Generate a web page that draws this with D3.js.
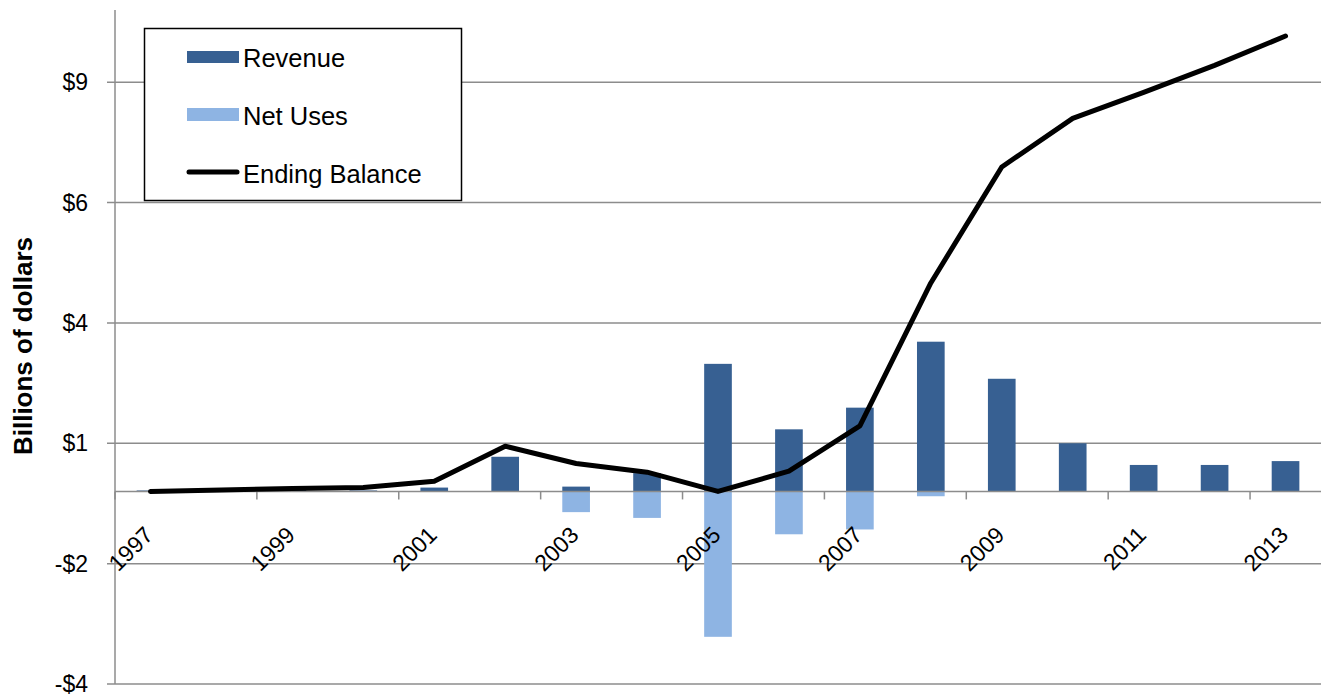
<!DOCTYPE html>
<html>
<head>
<meta charset="utf-8">
<script src="https://cdn.jsdelivr.net/npm/d3@7"></script>
<style>
body { margin: 0; background: white; }
text { font-family: "Liberation Sans", Arial, sans-serif; }
</style>
</head>
<body>
<div id="chart"></div>
<script>
var margin = {top: 10, right: 0, bottom: 12, left: 115}
var width = 1321 - margin.left - margin.right
var height = 696 - margin.top - margin.bottom

// Data

var years = ["1997", "1998", "1999", "2000", "2001", "2002", "2003", "2004", "2005",
             "2006", "2007", "2008", "2009", "2010", "2011", "2012", "2013"]
var revenue = [0.02, 0.02, 0.03, 0.02, 0.08, 0.72, 0.10, 0.38, 2.65, 1.29, 1.74, 3.11, 2.34, 1.00, 0.55, 0.55, 0.63]
var netUses = [-0.01, 0, -0.01, -0.01, 0, 0, -0.43, -0.55, -3.02, -0.89, -0.79, -0.10, 0, 0, 0, 0, 0]
var balance = [0, 0.03, 0.06, 0.08, 0.21, 0.94, 0.58, 0.40, 0, 0.42, 1.36, 4.33, 6.74, 7.75, 8.29, 8.85, 9.46]
var yTicks = [-4, -1.5, 1, 3.5, 6, 8.5]
var labelYears = ["1997", "1999", "2001", "2003", "2005", "2007", "2009", "2011", "2013"]
var legendItems = ["Revenue", "Net Uses", "Ending Balance"]

var revColor = "#376092"
var netColor = "#8EB4E3"
var gridColor = "#8c8c8c"

// Scale creation

var y_scale = d3.scaleLinear()
    .domain([-4, 10])
    .range([height, 0]);

var x_scale = d3.scaleBand()
    .domain(years)
    .range([0, width]);

var barW = x_scale.bandwidth() * 0.39

var svg = d3.select("#chart")
    .append("svg")
    .attr("width", 1321)
    .attr("height", 696)
    .style("background-color", "white")

var chart = svg.append("g")
    .attr("transform", "translate(" + margin.left + "," + margin.top + ")")

// Gridlines

chart.append("g")
    .selectAll("line")
    .data(yTicks)
    .enter()
    .append("line")
    .attr("x1", -8)
    .attr("x2", width)
    .attr("y1", function(d) { return y_scale(d); })
    .attr("y2", function(d) { return y_scale(d); })
    .attr("stroke", gridColor)
    .attr("stroke-width", 1.5)

chart.append("g")
    .selectAll("text")
    .data(yTicks)
    .enter()
    .append("text")
    .attr("x", -27)
    .attr("y", function(d) { return y_scale(d) + 8; })
    .attr("text-anchor", "end")
    .style("font-size", "23px")
    .text(function(d) {
        return (d < 0 ? "-" : "") + "$" + Math.round(Math.abs(d));
    })

// Bars

chart.append("g")
    .selectAll("rect")
    .data(years)
    .enter()
    .append("rect")
    .attr("x", function(d) { return x_scale(d) + (x_scale.bandwidth() - barW) / 2; })
    .attr("y", function(d, i) { return y_scale(revenue[i]); })
    .attr("width", barW)
    .attr("height", function(d, i) { return y_scale(0) - y_scale(revenue[i]); })
    .style("fill", revColor)

chart.append("g")
    .selectAll("rect")
    .data(years)
    .enter()
    .append("rect")
    .attr("x", function(d) { return x_scale(d) + (x_scale.bandwidth() - barW) / 2; })
    .attr("y", y_scale(0))
    .attr("width", barW)
    .attr("height", function(d, i) { return y_scale(netUses[i]) - y_scale(0); })
    .style("fill", netColor)

// Axes

chart.append("line")
    .attr("x1", 0).attr("x2", 0)
    .attr("y1", 0).attr("y2", height)
    .attr("stroke", gridColor)
    .attr("stroke-width", 1.5)

chart.append("line")
    .attr("x1", 0).attr("x2", width)
    .attr("y1", y_scale(0)).attr("y2", y_scale(0))
    .attr("stroke", gridColor)
    .attr("stroke-width", 1.5)

chart.append("g")
    .selectAll("line")
    .data(years.filter(function(d, i) { return i % 2 == 0; }))
    .enter()
    .append("line")
    .attr("x1", function(d) { return x_scale(d); })
    .attr("x2", function(d) { return x_scale(d); })
    .attr("y1", y_scale(0))
    .attr("y2", y_scale(0) + 8)
    .attr("stroke", gridColor)
    .attr("stroke-width", 1.5)

chart.append("g")
    .selectAll("text")
    .data(labelYears)
    .enter()
    .append("text")
    .attr("transform", function(d) {
        return "translate(" + (x_scale(d) + x_scale.bandwidth() / 2 + 4) + "," + (y_scale(0) + 45) + ") rotate(-45)";
    })
    .attr("text-anchor", "end")
    .style("font-size", "23px")
    .text(function(d) { return d; })

// Ending balance line

var line = d3.line()
    .x(function(d, i) { return x_scale(years[i]) + x_scale.bandwidth() / 2; })
    .y(function(d) { return y_scale(d); })

chart.append("path")
    .datum(balance)
    .attr("d", line)
    .attr("fill", "none")
    .attr("stroke", "black")
    .attr("stroke-width", 5)
    .attr("stroke-linejoin", "round")
    .attr("stroke-linecap", "round")

// Y label

svg.append("text")
    .attr("transform", "translate(32,346) rotate(-90)")
    .attr("text-anchor", "middle")
    .style("font-size", "26px")
    .style("font-weight", "bold")
    .text("Billions of dollars")

// Legend

var legend = svg.append("g")

legend.append("rect")
    .attr("x", 144.5)
    .attr("y", 28.5)
    .attr("width", 317)
    .attr("height", 172)
    .attr("fill", "white")
    .attr("stroke", "black")
    .attr("stroke-width", 1.5)

legend.append("rect")
    .attr("x", 187).attr("y", 51)
    .attr("width", 52).attr("height", 12)
    .style("fill", revColor)

legend.append("rect")
    .attr("x", 187).attr("y", 108)
    .attr("width", 52).attr("height", 13)
    .style("fill", netColor)

legend.append("line")
    .attr("x1", 189).attr("x2", 237)
    .attr("y1", 172).attr("y2", 172)
    .attr("stroke", "black")
    .attr("stroke-width", 5)
    .attr("stroke-linecap", "round")

legend.selectAll("text")
    .data(legendItems)
    .enter()
    .append("text")
    .attr("x", 243)
    .attr("y", function(d, i) { return 67 + i * 58; })
    .style("font-size", "25.5px")
    .text(function(d) { return d; })
</script>
</body>
</html>
